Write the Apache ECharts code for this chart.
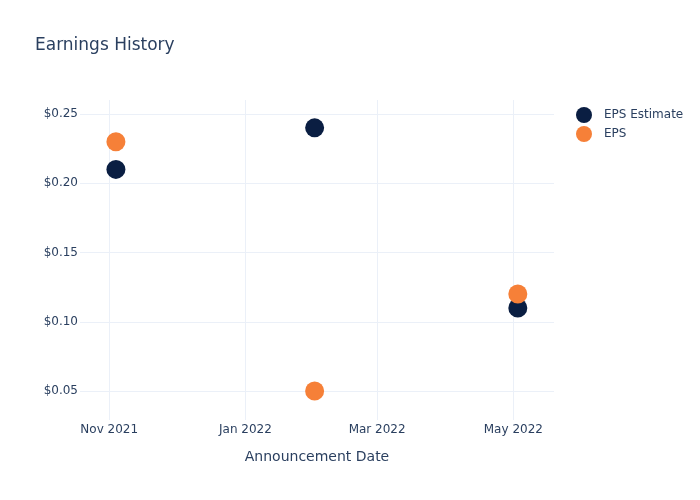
<!DOCTYPE html>
<html>
<head>
<meta charset="utf-8">
<script src="https://cdn.jsdelivr.net/npm/echarts@6/dist/echarts.min.js"></script>
<style>html,body{margin:0;padding:0;background:#fff}#c{width:700px;height:500px}</style>
</head>
<body>
<div id="c"></div>
<script>
// ---- data ----
const announcementDates = ['2021-11-04', '2022-02-01', '2022-05-03'];
const epsEstimate = [0.21, 0.24, 0.11];
const eps = [0.23, 0.05, 0.12];
const xTickDates = ['2021-11-01', '2022-01-01', '2022-03-01', '2022-05-01'];
const xTickLabels = ['Nov 2021', 'Jan 2022', 'Mar 2022', 'May 2022'];
const yTicks = [0.05, 0.10, 0.15, 0.20, 0.25];
const yTickLabels = ['$0.05', '$0.10', '$0.15', '$0.20', '$0.25'];

function ts(s) { const p = s.split('-').map(Number); return Date.UTC(p[0], p[1] - 1, p[2]); }
const xTickVals = xTickDates.map(ts);

const FONT = 'DejaVu Sans';
const TXT = '#2a3f5f';
const GRID = '#ebf0f8';

const chart = echarts.init(document.getElementById('c'), null, { renderer: 'canvas' });
chart.setOption({
  animation: false,
  backgroundColor: '#fff',
  textStyle: { fontFamily: FONT, color: TXT },
  title: {
    text: 'Earnings History', left: 30, top: 32,
    textStyle: { fontFamily: FONT, fontSize: 17, fontWeight: 'normal', color: TXT }
  },
  legend: {
    orient: 'vertical', left: 571, top: 102,
    itemWidth: 16, itemHeight: 16, itemGap: 3, icon: 'circle',
    textStyle: { fontFamily: FONT, fontSize: 12, color: TXT, padding: [0, 0, 0, 7] },
    data: ['EPS Estimate', 'EPS']
  },
  grid: { left: 80, right: 146, top: 100, bottom: 80, containLabel: false },
  xAxis: {
    type: 'value',
    min: Date.UTC(2021, 9, 18, 22), max: Date.UTC(2022, 4, 19, 5),
    name: 'Announcement Date', nameLocation: 'middle', nameGap: 30,
    nameTextStyle: { fontFamily: FONT, fontSize: 14, color: TXT },
    axisLine: { show: false },
    axisTick: { show: false, customValues: xTickVals },
    splitLine: { show: true, lineStyle: { color: GRID, width: 1 } },
    axisLabel: {
      customValues: xTickVals, margin: 4,
      fontFamily: FONT, fontSize: 12, color: TXT,
      formatter: function (v) { const i = xTickVals.indexOf(v); return i >= 0 ? xTickLabels[i] : ''; }
    }
  },
  yAxis: {
    type: 'value',
    min: 0.0291, max: 0.2601,
    axisLine: { show: false },
    axisTick: { show: false, customValues: yTicks },
    splitLine: { show: true, lineStyle: { color: GRID, width: 1 } },
    axisLabel: {
      customValues: yTicks, margin: 2,
      fontFamily: FONT, fontSize: 12, color: TXT, padding: [4, 0, 0, 0],
      formatter: function (v) {
        for (let i = 0; i < yTicks.length; i++) if (Math.abs(yTicks[i] - v) < 1e-9) return yTickLabels[i];
        return '';
      }
    }
  },
  series: [
    {
      name: 'EPS Estimate', type: 'scatter', symbol: 'circle', symbolSize: 19,
      itemStyle: { color: '#0a1e42', opacity: 1 },
      data: announcementDates.map((d, i) => [ts(d), epsEstimate[i]])
    },
    {
      name: 'EPS', type: 'scatter', symbol: 'circle', symbolSize: 19,
      itemStyle: { color: '#f68038', opacity: 1 },
      data: announcementDates.map((d, i) => [ts(d), eps[i]])
    }
  ]
});
</script>
</body>
</html>
